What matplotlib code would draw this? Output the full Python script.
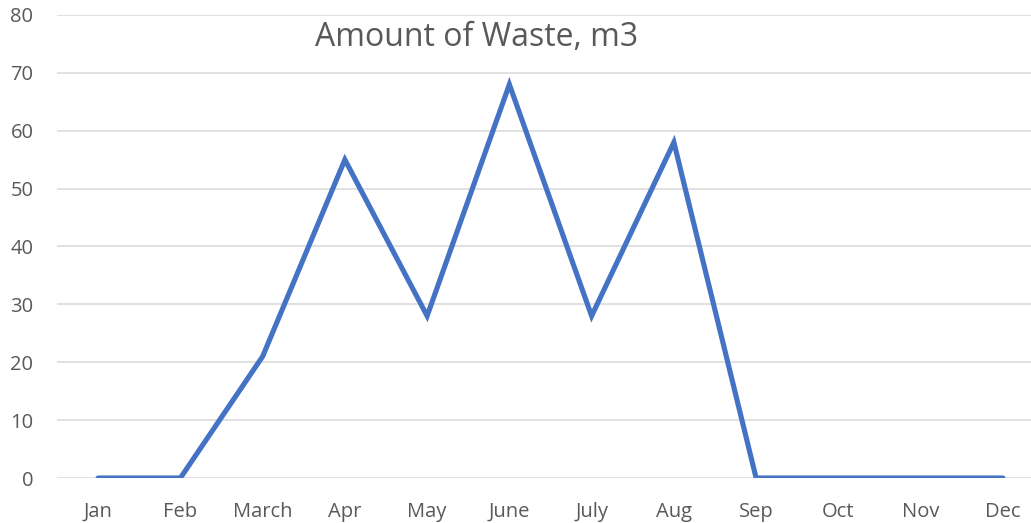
import matplotlib
matplotlib.use("Agg")
from matplotlib import pyplot as plt

# monthly data
months = ['Jan', 'Feb', 'March', 'Apr', 'May', 'June', 'July', 'Aug', 'Sep', 'Oct', 'Nov', 'Dec']
waste = [0, 0, 21, 55, 28, 68, 28, 58, 0, 0, 0, 0]
y_ticks = [0, 10, 20, 30, 40, 50, 60, 70, 80]

plt.rcParams['font.family'] = ['Open Sans', 'DejaVu Sans']

fig = plt.figure(figsize=(10.31, 5.23), dpi=100)
# plot area in pixels: x 57..1044, y 15..478
ax = fig.add_axes([57/1031, 1 - 478/523, (1044 - 57)/1031, (478 - 15)/523])

x = list(range(len(months)))
ax.plot(x, waste, color='#4472C4', linewidth=3.7, solid_capstyle='round', solid_joinstyle='miter', zorder=3)

ax.set_xlim(-0.5, len(months) - 0.5)
ax.set_ylim(0, 80)
ax.set_yticks(y_ticks)
ax.set_xticks(x)
ax.set_xticklabels(months)
ax.grid(axis='y', color='#D9D9D9', linewidth=1.1)
ax.set_axisbelow(True)
for s in ax.spines.values():
    s.set_visible(False)
ax.tick_params(length=0, colors='#595959', labelsize=14.5)
ax.tick_params(axis='y', pad=17)
ax.tick_params(axis='x', pad=17)

# title sits inside the plot area
fig.text(477/1031, 1 - 38/523, 'Amount of Waste, m3', fontsize=23,
         color='#595959', ha='center', va='center')

fig.savefig('out.png', dpi=100)
